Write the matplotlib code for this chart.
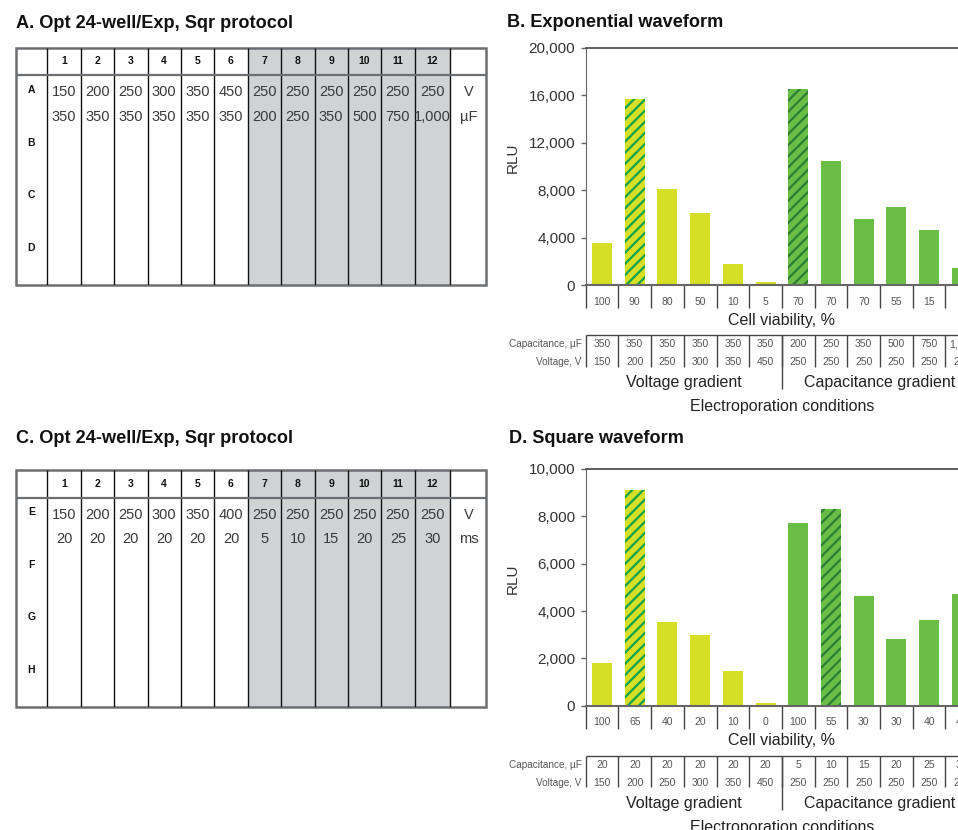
import numpy as np
import matplotlib
matplotlib.use('Agg')
import matplotlib.pyplot as plt
import matplotlib.transforms as mtransforms
from matplotlib.patches import Rectangle
from matplotlib.ticker import FuncFormatter

plt.rcParams['font.family'] = ['Liberation Sans', 'DejaVu Sans']
plt.rcParams['hatch.linewidth'] = 1.6

# plate layouts (panels A and C)
plate_cols = [str(i) for i in range(1, 13)]
rows_a = ['A', 'B', 'C', 'D']
volt_a = ['150', '200', '250', '300', '350', '450', '250', '250', '250', '250', '250', '250']
cap_a = ['350', '350', '350', '350', '350', '350', '200', '250', '350', '500', '750', '1,000']
units_a = ['V', 'µF']

rows_c = ['E', 'F', 'G', 'H']
volt_c = ['150', '200', '250', '300', '350', '400', '250', '250', '250', '250', '250', '250']
time_c = ['20', '20', '20', '20', '20', '20', '5', '10', '15', '20', '25', '30']
units_c = ['V', 'ms']

# exponential waveform (panel B)
groups = ['Voltage gradient'] * 6 + ['Capacitance gradient'] * 6
rlu_b = [3500, 15700, 8100, 6050, 1800, 250, 16500, 10450, 5550, 6550, 4600, 1400]
viab_b = [100, 90, 80, 50, 10, 5, 70, 70, 70, 55, 15, 5]
cap_b = [350, 350, 350, 350, 350, 350, 200, 250, 350, 500, 750, 1000]
volt_b = [150, 200, 250, 300, 350, 450, 250, 250, 250, 250, 250, 250]
best_b = [1, 6]

# square waveform (panel D)
rlu_d = [1800, 9100, 3550, 3000, 1450, 100, 7700, 8300, 4650, 2800, 3600, 4700]
viab_d = [100, 65, 40, 20, 10, 0, 100, 55, 30, 30, 40, 40]
cap_d = [20, 20, 20, 20, 20, 20, 5, 10, 15, 20, 25, 30]
volt_d = [150, 200, 250, 300, 350, 450, 250, 250, 250, 250, 250, 250]
best_d = [1, 7]

YELLOW = '#d4df26'
GREEN = '#6abd45'
STRIPE = {YELLOW: '#10a24a', GREEN: '#2a7f36'}
GROUP_COLOR = {'Voltage gradient': YELLOW, 'Capacitance gradient': GREEN}

W, H = 958, 830
fig = plt.figure(figsize=(W / 100, H / 100), dpi=100)
# pixel coordinates measured from the top-left corner
px = mtransforms.Affine2D().scale(1 / W, -1 / H).translate(0, 1) + fig.transFigure


def px_rect(x0, y0, x1, y1):
    return [x0 / W, 1 - y1 / H, (x1 - x0) / W, (y1 - y0) / H]


def draw_plate(top, rows, vals1, vals2, units):
    header_h, body_h = 27.6, 209.7
    widths = [31.6] + [33.4] * 11 + [35.7, 36.0]
    edges = np.concatenate([[0], np.cumsum(widths)])
    total_h = header_h + body_h
    ax = fig.add_axes(px_rect(15.7, top, 15.7 + edges[-1], top + total_h))
    ax.set_xlim(0, edges[-1])
    ax.set_ylim(total_h, 0)
    ax.axis('off')
    ax.add_patch(Rectangle((edges[7], 0), edges[13] - edges[7], total_h,
                           facecolor='#d1d2d4', edgecolor='none'))
    ax.vlines(edges[1:-1], 0, total_h, color='#111111', lw=1)
    ax.hlines(header_h, 0, edges[-1], color='#6d6e71', lw=1.6)
    ax.add_patch(Rectangle((0, 0), edges[-1], total_h, fill=False,
                           edgecolor='#6d6e71', lw=1.8, clip_on=False))
    centers = (edges[:-1] + edges[1:]) / 2
    for c, lab in zip(centers[1:13], plate_cols):
        ax.text(c, header_h / 2, lab, ha='center', va='center',
                fontsize=7.5, fontweight='bold', color='#111111')
    for k, lab in enumerate(rows):
        ax.text(centers[0], header_h + 14.7 + k * 52.5, lab, ha='center',
                va='center', fontsize=7.5, fontweight='bold', color='#111111')
    for c, v1, v2 in zip(centers[1:13], vals1, vals2):
        ax.text(c, header_h + 17, v1, ha='center', va='center', fontsize=10.5, color='#3a3a3a')
        ax.text(c, header_h + 41.4, v2, ha='center', va='center', fontsize=10.5, color='#3a3a3a')
    ax.text(centers[13], header_h + 17, units[0], ha='center', va='center', fontsize=10.5, color='#3a3a3a')
    ax.text(centers[13], header_h + 41.4, units[1], ha='center', va='center', fontsize=10.5, color='#3a3a3a')


def draw_chart(y_top, y_zero, rlu, viab, cap, volt, best, ymax, step):
    ax = fig.add_axes(px_rect(585.7, y_top, 978.2, y_zero))
    n = len(rlu)
    x = np.arange(n)
    colors = [GROUP_COLOR[g] for g in groups]
    bars = ax.bar(x, rlu, width=0.61, color=colors, linewidth=0)
    for i in best:
        bars[i].set_hatch('///')
        bars[i].set_edgecolor(STRIPE[colors[i]])
        bars[i].set_linewidth(0)
    ax.set_xlim(-0.5, n - 0.5)
    ax.set_ylim(0, ymax)
    ax.set_yticks(np.arange(0, ymax + 1, step))
    ax.yaxis.set_major_formatter(FuncFormatter(lambda v, p: f'{int(v):,}'))
    ax.set_xticks([])
    ax.tick_params(axis='y', direction='out', length=3.5, width=1, color='#666666',
                   labelsize=11, labelcolor='#333333', pad=4)
    ax.spines['right'].set_visible(False)
    ax.spines['left'].set_color('#666666')
    ax.spines['top'].set_color('#444444')
    ax.spines['top'].set_linewidth(1.2)
    ax.spines['bottom'].set_color('#666666')
    ax.spines['bottom'].set_linewidth(1.5)
    ax.set_ylabel('RLU', fontsize=11, color='#333333')
    ax.yaxis.set_label_coords(-0.167, 0.537)

    tr = mtransforms.blended_transform_factory(ax.transData, px)
    bounds = np.arange(n + 1) - 0.5
    line_kw = dict(color='#444444', lw=1, transform=tr, clip_on=False)
    # cell viability row
    ax.vlines(bounds[:-1], y_zero, y_zero + 23.3, **line_kw)
    for i, v in enumerate(viab):
        ax.text(i, y_zero + 16.7, str(v), transform=tr, ha='center', va='center',
                fontsize=7.5, color='#555555')
    ax.text((n - 1) / 2, y_zero + 35, 'Cell viability, %', transform=tr,
            ha='center', va='center', fontsize=11.5, color='#222222')
    # electroporation conditions table
    ax.hlines(y_zero + 50, -0.5, n + 1, **line_kw)
    ax.vlines(bounds[:-1], y_zero + 50, y_zero + 81.7, **line_kw)
    ax.vlines(5.5, y_zero + 50, y_zero + 104.3, **line_kw)
    for i, (c, v) in enumerate(zip(cap, volt)):
        ax.text(i, y_zero + 59.3, f'{c:,}', transform=tr, ha='center', va='center',
                fontsize=7.5, color='#555555')
        ax.text(i, y_zero + 77.3, f'{v:,}', transform=tr, ha='center', va='center',
                fontsize=7.5, color='#555555')
    ax.text(581.7, y_zero + 59.3, 'Capacitance, µF', transform=px, ha='right',
            va='center', fontsize=7.2, color='#555555')
    ax.text(581.7, y_zero + 77.3, 'Voltage, V', transform=px, ha='right',
            va='center', fontsize=7.2, color='#555555')
    for g in ['Voltage gradient', 'Capacitance gradient']:
        idx = [i for i, gg in enumerate(groups) if gg == g]
        ax.text(np.mean(idx), y_zero + 97.3, g, transform=tr, ha='center',
                va='center', fontsize=11.5, color='#222222')
    ax.text((n - 1) / 2, y_zero + 121.7, 'Electroporation conditions', transform=tr,
            ha='center', va='center', fontsize=11.5, color='#222222')


title_kw = dict(transform=px, fontsize=13.1, fontweight='bold', color='#111111', va='baseline')
fig.text(15.7, 28.3, 'A. Opt 24-well/Exp, Sqr protocol', **title_kw)
fig.text(506.7, 27.3, 'B. Exponential waveform', **title_kw)
fig.text(15.7, 443.3, 'C. Opt 24-well/Exp, Sqr protocol', **title_kw)
fig.text(509, 443.3, 'D. Square waveform', **title_kw)

draw_plate(47.7, rows_a, volt_a, cap_a, units_a)
draw_plate(470.0, rows_c, volt_c, time_c, units_c)
draw_chart(47.7, 285.0, rlu_b, viab_b, cap_b, volt_b, best_b, 20000, 4000)
draw_chart(469.0, 705.7, rlu_d, viab_d, cap_d, volt_d, best_d, 10000, 2000)

fig.savefig('out.png', dpi=100)
